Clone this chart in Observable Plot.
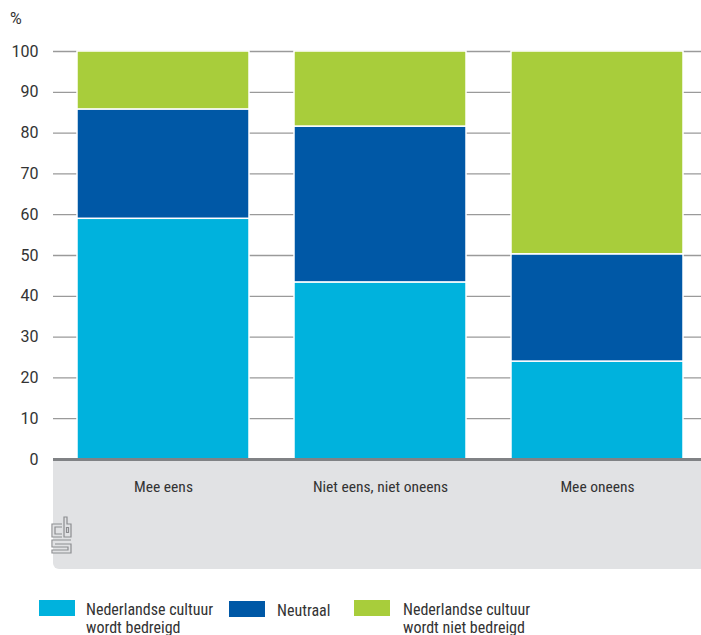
<!DOCTYPE html>
<html>
<head>
<meta charset="utf-8">
<script src="https://cdn.jsdelivr.net/npm/d3@7"></script>
<script src="https://cdn.jsdelivr.net/npm/@observablehq/plot@0.6"></script>
<style>
  html, body { margin: 0; padding: 0; background: #fff; }
  #wrap { position: relative; width: 701px; height: 635px; overflow: hidden;
    font-family: "Liberation Sans Narrow", "Roboto Condensed", "DejaVu Sans Condensed", Roboto, sans-serif; color: #333; }
  #unit { position: absolute; left: 10px; top: 10px; font-size: 16px; line-height: 18px; font-family: Roboto, sans-serif; }
  #chart { position: absolute; left: 0; top: 0; }
  .lg { position: absolute; font-size: 16px; line-height: 17.5px; }
  .sw { position: absolute; width: 36px; height: 16px; }
</style>
</head>
<body>
<div id="wrap">
  <div id="chart"></div>
  <div id="unit">%</div>
  <div id="legend"></div>
</div>
<script>
const categories = ["Mee eens", "Niet eens, niet oneens", "Mee oneens"];
const seriesNames = ["Nederlandse cultuur wordt bedreigd", "Neutraal", "Nederlandse cultuur wordt niet bedreigd"];
const seriesLines = [["Nederlandse cultuur", "wordt bedreigd"], ["Neutraal"], ["Nederlandse cultuur", "wordt niet bedreigd"]];
const bedreigd = [59, 43.4, 24];
const neutraal = [26.8, 38.2, 26.3];
const nietBedreigd = [14.2, 18.4, 49.7];
const colors = ["#00b2dd", "#0058a6", "#a8cd3b"];
const yTicks = [0, 10, 20, 30, 40, 50, 60, 70, 80, 90, 100];

const seriesValues = [bedreigd, neutraal, nietBedreigd];
const data = [];
seriesNames.forEach((s, si) => {
  categories.forEach((c, ci) => data.push({cat: c, series: s, value: seriesValues[si][ci]}));
});

const font = '"Liberation Sans Narrow", "Roboto Condensed", "DejaVu Sans Condensed", Roboto, sans-serif';

const plot = Plot.plot({
  width: 701,
  height: 575,
  marginTop: 51,
  marginBottom: 116,
  marginLeft: 53,
  marginRight: 0,
  style: {fontFamily: font, fontSize: "15px", color: "#333", background: "transparent"},
  x: {domain: categories, range: [53, 707], paddingInner: 0.207, paddingOuter: 0.106, label: null},
  y: {domain: [0, 100], label: null},
  color: {domain: seriesNames, range: colors},
  marks: [
    Plot.ruleY(yTicks.filter(d => d > 0), {stroke: "#9a9a9a", strokeWidth: 1.3}),
    Plot.barY(data, {x: "cat", y: "value", fill: "series", order: seriesNames, stroke: "white", strokeWidth: 1.5}),
    Plot.ruleY([0], {stroke: "#808285", strokeWidth: 3}),
    Plot.axisY({ticks: yTicks, tickSize: 0, tickPadding: 15, label: null, fontFamily: "Roboto, sans-serif", fontSize: 16}),
    Plot.axisX({tickSize: 0, tickPadding: 21, label: null, fontSize: 15.5})
  ]
});

// grey panel under the axis
const ys = plot.scale("y");
const y0 = ys.apply(0);
const ns = "http://www.w3.org/2000/svg";
const panel = document.createElementNS(ns, "path");
const px0 = 53, px1 = 701, py0 = y0, py1 = 569, r = 6;
panel.setAttribute("d", `M${px0},${py0}H${px1}V${py1}H${px0 + r}A${r},${r} 0 0 1 ${px0},${py1 - r}Z`);
panel.setAttribute("fill", "#e1e2e4");
plot.insertBefore(panel, plot.firstChild);

// cbs logo (decorative)
const logo = document.createElementNS(ns, "g");
logo.setAttribute("transform", "translate(51,517)");
logo.setAttribute("fill", "none");
logo.setAttribute("stroke", "#8c8d90");
logo.setAttribute("stroke-width", "1.2");
logo.innerHTML = `
  <path d="M11,7H1V20H11"/>
  <path d="M11,10H4V17H11"/>
  <path d="M13,0V20H20V7H16V0Z"/>
  <path d="M15.5,10.5h2v5h-2z"/>
  <path d="M20,23H1V30H17V33H1V36H20V27H4"/>
`;
plot.appendChild(logo);

document.getElementById("chart").appendChild(plot);

// legend
const legend = document.getElementById("legend");
const swX = [39, 229, 354];
const swY = [600, 601, 600];
const txX = [86, 277, 403];
const txY = [601, 602, 601];
seriesNames.forEach((s, i) => {
  const sw = document.createElement("div");
  sw.className = "sw";
  sw.style.left = swX[i] + "px";
  sw.style.top = swY[i] + "px";
  sw.style.background = colors[i];
  legend.appendChild(sw);
  const t = document.createElement("div");
  t.className = "lg";
  t.style.left = txX[i] + "px";
  t.style.top = txY[i] + "px";
  t.innerHTML = seriesLines[i].join("<br>");
  legend.appendChild(t);
});
</script>
</body>
</html>
